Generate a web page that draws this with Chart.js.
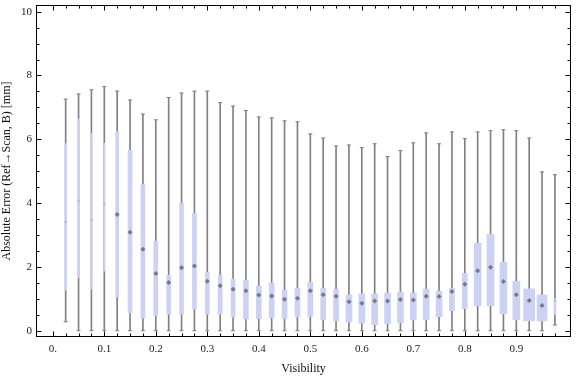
<!DOCTYPE html>
<html>
<head>
<meta charset="utf-8">
<script src="https://cdn.jsdelivr.net/npm/chart.js@4"></script>
<style>
  html, body { margin: 0; padding: 0; background: #fff; }
  #wrap { width: 576px; height: 377px; }
</style>
</head>
<body>
<div id="wrap"><canvas id="chart" width="576" height="377"></canvas></div>
<script>
// visibility bins (box centres)
const visibility = [0.025, 0.05, 0.075, 0.1, 0.125, 0.15, 0.175, 0.2, 0.225, 0.25,
  0.275, 0.3, 0.325, 0.35, 0.375, 0.4, 0.425, 0.45, 0.475, 0.5,
  0.525, 0.55, 0.575, 0.6, 0.625, 0.65, 0.675, 0.7, 0.725, 0.75,
  0.775, 0.8, 0.825, 0.85, 0.875, 0.9, 0.925, 0.95, 0.975];

// whisker ends
const whiskerLow = [0.28, 0, 0, 0, 0, 0, 0, 0, 0, 0,
  0, 0, 0, 0, 0, 0, 0, 0, 0, 0,
  0, 0, 0, 0, 0, 0, 0, 0, 0, 0,
  0, 0, 0, 0, 0, 0, 0, 0, 0.18];
const whiskerHigh = [7.26, 7.42, 7.55, 7.65, 7.51, 7.23, 6.79, 6.61, 7.31, 7.45,
  7.51, 7.51, 7.15, 7.04, 6.90, 6.70, 6.67, 6.58, 6.55, 6.17,
  6.04, 5.79, 5.82, 5.74, 5.86, 5.46, 5.65, 5.89, 6.20, 5.86,
  6.23, 6.02, 6.23, 6.27, 6.30, 6.27, 6.04, 4.98, 4.89];

// quartiles and median
const q1 = [1.27, 1.66, 1.30, 1.87, 1.06, 0.56, 0.39, 0.47, 0.52, 0.52,
  0.69, 0.52, 0.52, 0.43, 0.37, 0.38, 0.41, 0.38, 0.44, 0.45,
  0.34, 0.31, 0.27, 0.24, 0.19, 0.22, 0.25, 0.34, 0.34, 0.44,
  0.63, 0.69, 0.78, 0.78, 0.53, 0.34, 0.31, 0.31, 0.51];
const q3 = [5.86, 6.64, 6.19, 5.88, 6.24, 5.65, 4.58, 2.81, 1.74, 3.99,
  3.68, 1.83, 1.74, 1.62, 1.58, 1.40, 1.49, 1.27, 1.33, 1.52,
  1.33, 1.30, 1.12, 1.15, 1.15, 1.18, 1.21, 1.18, 1.30, 1.24,
  1.33, 1.80, 2.74, 3.02, 2.15, 1.55, 1.31, 1.12, 1.00];
const median = [3.41, 4.08, 3.46, 3.98, 3.64, 3.09, 2.55, 1.79, 1.51, 1.97,
  2.03, 1.55, 1.41, 1.30, 1.25, 1.12, 1.09, 0.99, 1.02, 1.25,
  1.13, 1.08, 0.91, 0.86, 0.93, 0.93, 0.98, 0.96, 1.08, 1.07,
  1.23, 1.46, 1.88, 1.99, 1.54, 1.13, 0.95, 0.79, 0.93];

// axis ticks
const xTickValues = [0, 0.1, 0.2, 0.3, 0.4, 0.5, 0.6, 0.7, 0.8, 0.9];
const xTickLabels = ['0.', '0.1', '0.2', '0.3', '0.4', '0.5', '0.6', '0.7', '0.8', '0.9'];
const yTickValues = [0, 2, 4, 6, 8, 10];

// box widths in px (style only)
const boxPx = [2, 1, 1, 1, 3, 4, 4, 4, 4, 4, 4, 4, 4, 4, 5, 5, 5, 5, 5, 5,
  5, 5, 6, 6, 6, 6, 6, 6, 6, 6, 5, 5, 7, 7, 7, 7, 11, 10, 2];

const boxColor = '#ccd2f4';
const whiskerColor = '#808080';
const serif = '"Liberation Serif", "DejaVu Serif", serif';

// frame with inward ticks, Mathematica style
const framePlugin = {
  id: 'frame',
  afterDraw(chart) {
    const { ctx, chartArea: a, scales } = chart;
    const L = Math.round(a.left) + 0.5, R = Math.round(a.right) - 0.5;
    const T = Math.round(a.top) + 0.5, B = Math.round(a.bottom) - 0.5;
    ctx.save();
    ctx.strokeStyle = '#000';
    ctx.lineWidth = 1;
    ctx.strokeRect(L, T, R - L, B - T);
    ctx.beginPath();
    for (let i = 0; i <= 20; i++) {
      const v = i * 0.5;
      const y = Math.round(scales.y.getPixelForValue(v)) + 0.5;
      const len = (i % 4 === 0) ? 5 : 3;
      ctx.moveTo(L, y); ctx.lineTo(L + len, y);
      ctx.moveTo(R, y); ctx.lineTo(R - len, y);
    }
    for (let i = 0; i <= 39; i++) {
      const v = i * 0.025;
      const x = Math.round(scales.x.getPixelForValue(v)) + 0.5;
      const len = (i % 4 === 0) ? 5 : 3;
      ctx.moveTo(x, B); ctx.lineTo(x, B - len);
      ctx.moveTo(x, T); ctx.lineTo(x, T + len);
    }
    ctx.stroke();
    ctx.restore();
  }
};

const boxDatasets = visibility.map((v, i) => ({
  type: 'bar',
  data: [{ x: v, y: [q1[i], q3[i]] }],
  backgroundColor: boxColor,
  borderWidth: 0,
  barThickness: boxPx[i],
  grouped: false,
  order: 2
}));

new Chart(document.getElementById('chart'), {
  type: 'bar',
  data: {
    datasets: [
      {
        type: 'bar',
        data: visibility.map((v, i) => ({ x: v, y: [whiskerLow[i], whiskerHigh[i]] })),
        backgroundColor: whiskerColor,
        borderWidth: 0,
        barThickness: 1,
        grouped: false,
        order: 4
      },
      {
        type: 'line',
        data: visibility.map((v, i) => ({ x: v, y: whiskerHigh[i] })),
        showLine: false,
        pointStyle: 'line',
        pointRadius: 2,
        borderColor: whiskerColor,
        pointBorderWidth: 1,
        order: 3
      },
      {
        type: 'line',
        data: visibility.map((v, i) => ({ x: v, y: whiskerLow[i] })),
        showLine: false,
        pointStyle: 'line',
        pointRadius: 2,
        borderColor: whiskerColor,
        pointBorderWidth: 1,
        order: 3
      },
      ...boxDatasets,
      {
        type: 'line',
        data: visibility.map((v, i) => ({ x: v, y: median[i] })),
        showLine: false,
        pointStyle: 'rectRot',
        pointRadius: ctx => boxPx[ctx.dataIndex] <= 2 ? 1.5 : 2.5,
        pointBorderWidth: 0,
        pointBackgroundColor: ctx => boxPx[ctx.dataIndex] <= 2 ? 'rgba(150,150,175,0.45)' : 'rgba(105,105,115,0.85)',
        order: 1
      }
    ]
  },
  options: {
    responsive: false,
    animation: false,
    layout: { padding: { top: 4, right: 2, left: 0, bottom: 0 } },
    plugins: { legend: { display: false }, tooltip: { enabled: false } },
    scales: {
      x: {
        type: 'linear',
        offset: false,
        min: -0.0326,
        max: 1.0062,
        grid: { display: false, drawTicks: false, offset: false },
        border: { display: false },
        afterBuildTicks: s => { s.ticks = xTickValues.map(v => ({ value: v })); },
        afterFit: s => { s.height = 40; s.paddingLeft = 0; s.paddingRight = 0; },
        ticks: {
          padding: 6,
          maxRotation: 0,
          autoSkip: false,
          color: '#222',
          font: { family: serif, size: 11 },
          callback: (v, i) => xTickLabels[i]
        },
        title: {
          display: true,
          text: 'Visibility',
          color: '#111',
          font: { family: serif, size: 12 },
          padding: { top: 0, bottom: 1 }
        }
      },
      y: {
        type: 'linear',
        min: -0.197,
        max: 10.209,
        grid: { display: false, drawTicks: false },
        border: { display: false },
        afterBuildTicks: s => { s.ticks = yTickValues.map(v => ({ value: v })); },
        afterFit: s => { s.width = 36; s.paddingTop = 0; s.paddingBottom = 0; },
        ticks: {
          padding: 4,
          color: '#222',
          font: { family: serif, size: 11 }
        },
        title: {
          display: true,
          text: 'Absolute Error (Ref\u2192Scan, B) [mm]',
          color: '#111',
          font: { family: serif, size: 12 },
          padding: { top: 0, bottom: 0 }
        }
      }
    }
  },
  plugins: [framePlugin]
});
</script>
</body>
</html>
